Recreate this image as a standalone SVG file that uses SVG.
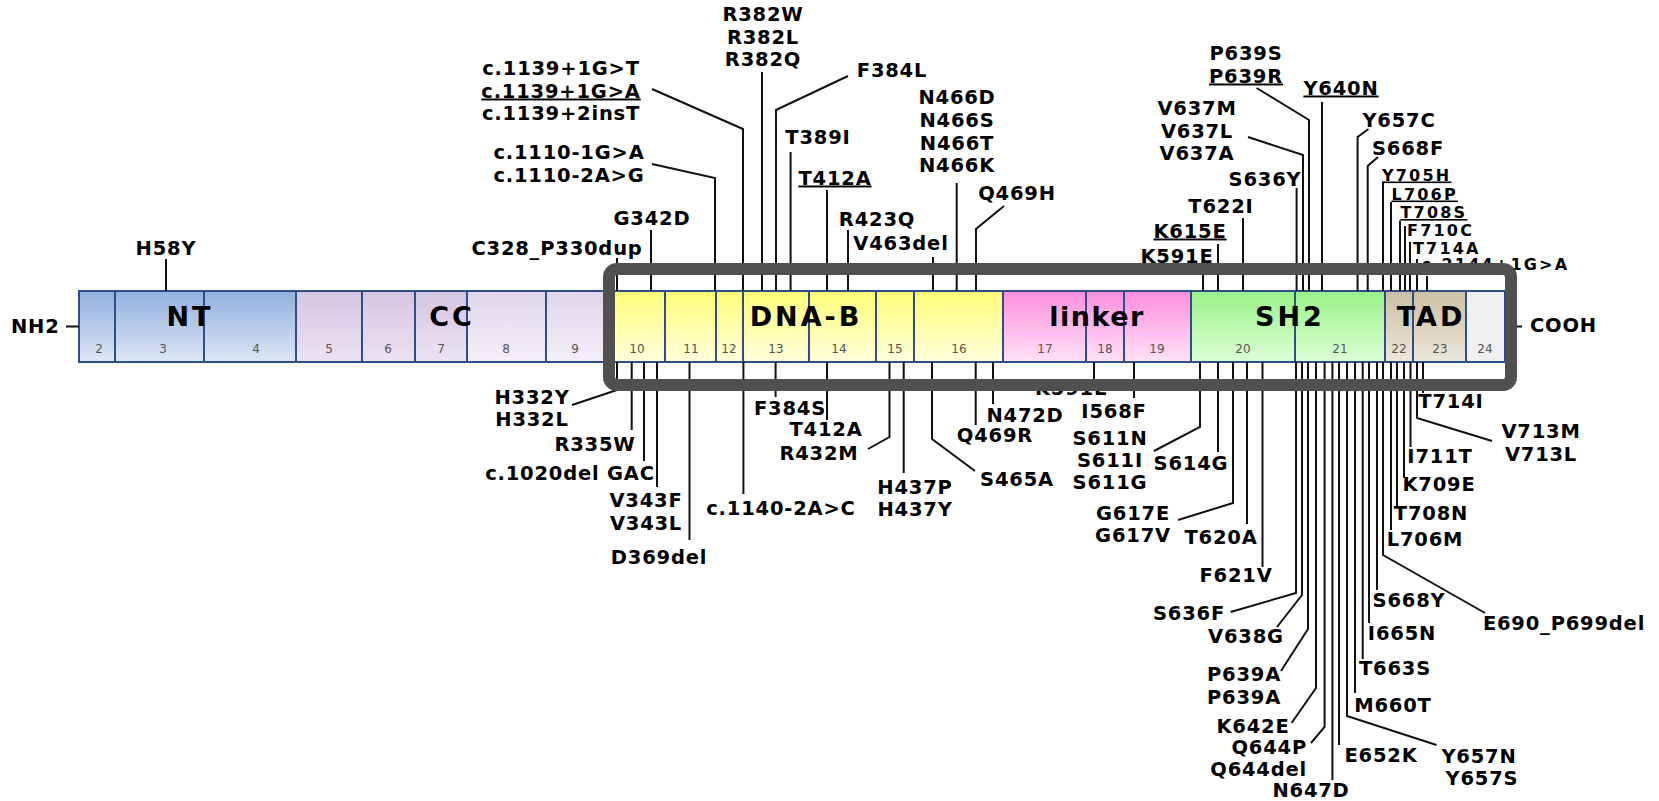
<svg xmlns="http://www.w3.org/2000/svg" width="1659" height="801" viewBox="0 0 1659 801">
<defs>
<linearGradient id="gNT" x1="0" y1="0" x2="0" y2="1"><stop offset="0" stop-color="#92afde"/><stop offset="1" stop-color="#dde6f5"/></linearGradient>
<linearGradient id="gCC" x1="0" y1="0" x2="0" y2="1"><stop offset="0" stop-color="#d5c4e1"/><stop offset="1" stop-color="#ebe3f2"/></linearGradient>
<linearGradient id="gCC2" x1="0" y1="0" x2="0" y2="1"><stop offset="0" stop-color="#e0d5ea"/><stop offset="1" stop-color="#f3eff8"/></linearGradient>
<linearGradient id="gDNA" x1="0" y1="0" x2="0" y2="1"><stop offset="0" stop-color="#ffff78"/><stop offset="1" stop-color="#ffffdc"/></linearGradient>
<linearGradient id="gLNK" x1="0" y1="0" x2="0" y2="1"><stop offset="0" stop-color="#ff8ede"/><stop offset="1" stop-color="#ffe2f6"/></linearGradient>
<linearGradient id="gSH2" x1="0" y1="0" x2="0" y2="1"><stop offset="0" stop-color="#98f288"/><stop offset="1" stop-color="#ddffd7"/></linearGradient>
<linearGradient id="gTAD" x1="0" y1="0" x2="0" y2="1"><stop offset="0" stop-color="#cbc0a2"/><stop offset="1" stop-color="#ece7dc"/></linearGradient>
</defs>
<style>
.seg{stroke:#2c4f86;stroke-width:2}
.num{font-family:"DejaVu Sans",Verdana,sans-serif;font-size:12px;fill:#555;text-anchor:middle}
.dom{font-family:"DejaVu Sans",Verdana,sans-serif;font-weight:bold;font-size:27px;letter-spacing:3px;fill:#000;text-anchor:middle}
.lb{font-family:"DejaVu Sans",Verdana,sans-serif;font-weight:bold;font-size:19.5px;letter-spacing:0.8px;fill:#000;text-anchor:middle}
.sm{font-size:16px;letter-spacing:2.2px;text-anchor:start}
.end{text-anchor:end}
.st{text-anchor:start}
.u{text-decoration:underline}
.ln{stroke:#111;stroke-width:2;fill:none}
.box{fill:none;stroke:#505050;stroke-width:12}
</style>
<rect width="1659" height="801" fill="#fff"/>

<g id="protein-bar">
<g id="nt-domain">
<rect class="seg" x="79" y="291" width="36" height="71" fill="url(#gNT)"/>
<rect class="seg" x="115" y="291" width="89" height="71" fill="url(#gNT)"/>
<rect class="seg" x="204" y="291" width="92" height="71" fill="url(#gNT)"/>
</g>
<g id="cc-domain">
<rect class="seg" x="296" y="291" width="66" height="71" fill="url(#gCC)"/>
<rect class="seg" x="362" y="291" width="53" height="71" fill="url(#gCC)"/>
<rect class="seg" x="415" y="291" width="52" height="71" fill="url(#gCC)"/>
<rect class="seg" x="467" y="291" width="79" height="71" fill="url(#gCC2)"/>
<rect class="seg" x="546" y="291" width="68" height="71" fill="url(#gCC2)"/>
</g>
<g id="dnab-domain">
<rect class="seg" x="614" y="291" width="51" height="71" fill="url(#gDNA)"/>
<rect class="seg" x="665" y="291" width="51" height="71" fill="url(#gDNA)"/>
<rect class="seg" x="716" y="291" width="27" height="71" fill="url(#gDNA)"/>
<rect class="seg" x="743" y="291" width="66" height="71" fill="url(#gDNA)"/>
<rect class="seg" x="809" y="291" width="67" height="71" fill="url(#gDNA)"/>
<rect class="seg" x="876" y="291" width="38" height="71" fill="url(#gDNA)"/>
<rect class="seg" x="914" y="291" width="89" height="71" fill="url(#gDNA)"/>
</g>
<g id="linker-domain">
<rect class="seg" x="1003" y="291" width="83" height="71" fill="url(#gLNK)"/>
<rect class="seg" x="1086" y="291" width="38" height="71" fill="url(#gLNK)"/>
<rect class="seg" x="1124" y="291" width="67" height="71" fill="url(#gLNK)"/>
</g>
<g id="sh2-domain">
<rect class="seg" x="1191" y="291" width="104" height="71" fill="url(#gSH2)"/>
<rect class="seg" x="1295" y="291" width="90" height="71" fill="url(#gSH2)"/>
</g>
<g id="tad-domain">
<rect class="seg" x="1385" y="291" width="28" height="71" fill="url(#gTAD)"/>
<rect class="seg" x="1413" y="291" width="53" height="71" fill="url(#gTAD)"/>
<rect class="seg" x="1466" y="291" width="39" height="71" fill="#f0f0f0"/>
</g>
<g id="exon-numbers">
<text class="num" x="99" y="353">2</text>
<text class="num" x="163" y="353">3</text>
<text class="num" x="256" y="353">4</text>
<text class="num" x="329" y="353">5</text>
<text class="num" x="388" y="353">6</text>
<text class="num" x="441" y="353">7</text>
<text class="num" x="506" y="353">8</text>
<text class="num" x="575" y="353">9</text>
<text class="num" x="637" y="353">10</text>
<text class="num" x="691" y="353">11</text>
<text class="num" x="729" y="353">12</text>
<text class="num" x="776" y="353">13</text>
<text class="num" x="839" y="353">14</text>
<text class="num" x="895" y="353">15</text>
<text class="num" x="959" y="353">16</text>
<text class="num" x="1045" y="353">17</text>
<text class="num" x="1105" y="353">18</text>
<text class="num" x="1157" y="353">19</text>
<text class="num" x="1243" y="353">20</text>
<text class="num" x="1340" y="353">21</text>
<text class="num" x="1399" y="353">22</text>
<text class="num" x="1440" y="353">23</text>
<text class="num" x="1485" y="353">24</text>
</g>
<g id="domain-labels">
<text class="dom" x="190" y="326">NT</text>
<text class="dom" x="452" y="326">CC</text>
<text class="dom" x="806" y="326">DNA-B</text>
<text class="dom" x="1097" y="326" style="letter-spacing:1.5px">linker</text>
<text class="dom" x="1290" y="326">SH2</text>
<text class="dom" x="1431" y="326">TAD</text>
</g>
<g id="termini">
<text class="lb st" x="11" y="333">NH2</text>
<text class="lb st" x="1530" y="332">COOH</text>
</g>
</g>

<g id="connectors">
<path class="ln" d="M66,326.5H79M1505,326.5H1522"/>
<path class="ln" d="M166,259V291"/>
<path class="ln" d="M617,258V291"/>
<path class="ln" d="M651,230V291"/>
<path class="ln" d="M652,164L715,178V291"/>
<path class="ln" d="M652,89L743,129V291"/>
<path class="ln" d="M762,72V291"/>
<path class="ln" d="M848,76L776,110V291"/>
<path class="ln" d="M790.6,152V291"/>
<path class="ln" d="M827,190V291"/>
<path class="ln" d="M848,230V291"/>
<path class="ln" d="M933,257V291"/>
<path class="ln" d="M956.7,183V291"/>
<path class="ln" d="M1004,206L976,229V291"/>
<path class="ln" d="M1203,266V291"/>
<path class="ln" d="M1218,244V291"/>
<path class="ln" d="M1243,218V291"/>
<path class="ln" d="M1296.6,188V291"/>
<path class="ln" d="M1248,137L1303,155V291"/>
<path class="ln" d="M1256.6,88L1309,120V291"/>
<path class="ln" d="M1322,102V291"/>
<path class="ln" d="M1368.5,129L1357.6,137V291"/>
<path class="ln" d="M1378,157L1367.7,166V291"/>
<path class="ln" d="M1383,183V291"/>
<path class="ln" d="M1391,202V291"/>
<path class="ln" d="M1400,220.5V291"/>
<path class="ln" d="M1405,226V291"/>
<path class="ln" d="M1410,242V291"/>
<path class="ln" d="M1417,259V291"/>
<path class="ln" d="M1427,276V291"/>

<path class="ln" d="M572,405L617,390V362"/>
<path class="ln" d="M631.7,362V430"/>
<path class="ln" d="M644,362V461"/>
<path class="ln" d="M657,362V487"/>
<path class="ln" d="M689.5,362V540"/>
<path class="ln" d="M743.4,362V494"/>
<path class="ln" d="M775.6,362V397"/>
<path class="ln" d="M827,362V420"/>
<path class="ln" d="M868,449L889.5,437V362"/>
<path class="ln" d="M903.7,362V473"/>
<path class="ln" d="M975,471L932,439V362"/>
<path class="ln" d="M975.7,362V425"/>
<path class="ln" d="M993,362V404"/>
<path class="ln" d="M1094,362V380"/>
<path class="ln" d="M1134,362V398"/>
<path class="ln" d="M1154,451L1200,427V362"/>
<path class="ln" d="M1218,362V452"/>
<path class="ln" d="M1178,520L1233,503V362"/>
<path class="ln" d="M1247,362V524"/>
<path class="ln" d="M1262.5,362V567"/>
<path class="ln" d="M1230.6,612L1296,593V362"/>
<path class="ln" d="M1277,627L1302,595V362"/>
<path class="ln" d="M1281,671L1308,629V362"/>
<path class="ln" d="M1291.6,723L1316,688V362"/>
<path class="ln" d="M1311,743L1324.6,727V362"/>
<path class="ln" d="M1332.4,362V780"/>
<path class="ln" d="M1339,362V745"/>
<path class="ln" d="M1347,362V716L1436.5,745"/>
<path class="ln" d="M1355,362V693"/>
<path class="ln" d="M1362.7,362V659"/>
<path class="ln" d="M1369,362V623"/>
<path class="ln" d="M1377,362V590"/>
<path class="ln" d="M1383,362V555L1485,613"/>
<path class="ln" d="M1391,362V530"/>
<path class="ln" d="M1397,362V506"/>
<path class="ln" d="M1404,362V478"/>
<path class="ln" d="M1410.5,362V447"/>
<path class="ln" d="M1417,362V418L1492,441"/>
<path class="ln" d="M1423,362V393"/>
</g>

<g id="labels-top">
<g id="m-H58Y"><text class="lb" x="166" y="254.5">H58Y</text></g>
<g id="m-C328"><text class="lb" x="557" y="254.5">C328_P330dup</text></g>
<g id="m-G342D"><text class="lb" x="652" y="224.5">G342D</text></g>
<g id="m-c1110"><text class="lb" x="569" y="158.5">c.1110-1G&gt;A</text><text class="lb" x="569" y="181.5">c.1110-2A&gt;G</text></g>
<g id="m-c1139"><text class="lb" x="561" y="74.5">c.1139+1G&gt;T</text><text class="lb u" x="561" y="97.5">c.1139+1G&gt;A</text><text class="lb" x="561" y="119.5">c.1139+2insT</text></g>
<g id="m-R382"><text class="lb" x="763" y="20.5">R382W</text><text class="lb" x="763" y="43.5">R382L</text><text class="lb" x="763" y="65.5">R382Q</text></g>
<g id="m-F384L"><text class="lb" x="892" y="76.5">F384L</text></g>
<g id="m-T389I"><text class="lb" x="818" y="143.5">T389I</text></g>
<g id="m-T412A-top"><text class="lb u" x="835" y="184.5">T412A</text></g>
<g id="m-R423Q"><text class="lb" x="877" y="225.5">R423Q</text></g>
<g id="m-V463del"><text class="lb" x="901" y="249.5">V463del</text></g>
<g id="m-N466"><text class="lb" x="957" y="103.5">N466D</text><text class="lb" x="957" y="126.5">N466S</text><text class="lb" x="957" y="149.5">N466T</text><text class="lb" x="957" y="171.5">N466K</text></g>
<g id="m-Q469H"><text class="lb" x="1017" y="199.5">Q469H</text></g>
<g id="m-K591E"><text class="lb" x="1177" y="262.5">K591E</text></g>
<g id="m-K615E"><text class="lb u" x="1190" y="237.5">K615E</text></g>
<g id="m-T622I"><text class="lb" x="1221" y="212.5">T622I</text></g>
<g id="m-S636Y"><text class="lb" x="1265" y="185.5">S636Y</text></g>
<g id="m-V637"><text class="lb" x="1197" y="114.5">V637M</text><text class="lb" x="1197" y="137.5">V637L</text><text class="lb" x="1197" y="159.5">V637A</text></g>
<g id="m-P639"><text class="lb" x="1246" y="59.5">P639S</text><text class="lb u" x="1246" y="82.5">P639R</text></g>
<g id="m-Y640N"><text class="lb u" x="1341" y="94.5">Y640N</text></g>
<g id="m-Y657C"><text class="lb" x="1399" y="126.5">Y657C</text></g>
<g id="m-S668F"><text class="lb" x="1408" y="154.5">S668F</text></g>
<g id="m-Y705H"><text class="lb sm u" x="1382" y="180.5">Y705H</text></g>
<g id="m-L706P"><text class="lb sm u" x="1391.5" y="199.5">L706P</text></g>
<g id="m-T708S"><text class="lb sm u" x="1400.5" y="218">T708S</text></g>
<g id="m-F710C"><text class="lb sm" x="1407" y="236">F710C</text></g>
<g id="m-T714A"><text class="lb sm" x="1413" y="253.5">T714A</text></g>
<g id="m-c2144"><text class="lb sm" x="1421.5" y="270">c.2144+1G&gt;A</text></g>
</g>

<g id="labels-bottom">
<g id="m-H332"><text class="lb" x="532" y="403.5">H332Y</text><text class="lb" x="532" y="425.5">H332L</text></g>
<g id="m-R335W"><text class="lb" x="595" y="450.5">R335W</text></g>
<g id="m-c1020"><text class="lb" x="570" y="479.5">c.1020del GAC</text></g>
<g id="m-V343"><text class="lb" x="646" y="506.5">V343F</text><text class="lb" x="646" y="529.5">V343L</text></g>
<g id="m-D369del"><text class="lb" x="659" y="563.5">D369del</text></g>
<g id="m-c1140"><text class="lb" x="781" y="514.5">c.1140-2A&gt;C</text></g>
<g id="m-F384S"><text class="lb" x="790" y="414.5">F384S</text></g>
<g id="m-T412A-bot"><text class="lb" x="826" y="435.5">T412A</text></g>
<g id="m-R432M"><text class="lb" x="819" y="459.5">R432M</text></g>
<g id="m-H437"><text class="lb" x="915" y="493.5">H437P</text><text class="lb" x="915" y="515.5">H437Y</text></g>
<g id="m-S465A"><text class="lb" x="1017" y="485.5">S465A</text></g>
<g id="m-Q469R"><text class="lb" x="995" y="441.5">Q469R</text></g>
<g id="m-N472D"><text class="lb" x="1025" y="421.5">N472D</text></g>
<g id="m-K591L"><text class="lb" x="1071" y="395">K591L</text></g>
<g id="m-I568F"><text class="lb" x="1114" y="417.5">I568F</text></g>
<g id="m-S611"><text class="lb" x="1110" y="444.5">S611N</text><text class="lb" x="1110" y="466.5">S611I</text><text class="lb" x="1110" y="488.5">S611G</text></g>
<g id="m-S614G"><text class="lb" x="1191" y="469.5">S614G</text></g>
<g id="m-G617"><text class="lb" x="1133" y="519.5">G617E</text><text class="lb" x="1133" y="541.5">G617V</text></g>
<g id="m-T620A"><text class="lb" x="1221" y="543.5">T620A</text></g>
<g id="m-F621V"><text class="lb" x="1236" y="581.5">F621V</text></g>
<g id="m-S636F"><text class="lb" x="1189" y="619.5">S636F</text></g>
<g id="m-V638G"><text class="lb" x="1246" y="642.5">V638G</text></g>
<g id="m-P639A"><text class="lb" x="1244" y="680.5">P639A</text><text class="lb" x="1244" y="703.5">P639A</text></g>
<g id="m-K642E"><text class="lb" x="1253" y="732.5">K642E</text></g>
<g id="m-Q644"><text class="lb end" x="1307" y="753.5">Q644P</text><text class="lb end" x="1307" y="775.5">Q644del</text></g>
<g id="m-N647D"><text class="lb" x="1311" y="796.5">N647D</text></g>
<g id="m-E652K"><text class="lb" x="1381" y="761.5">E652K</text></g>
<g id="m-Y657"><text class="lb" x="1479" y="762.5">Y657N</text><text class="lb" x="1482" y="784.5">Y657S</text></g>
<g id="m-M660T"><text class="lb" x="1393" y="711.5">M660T</text></g>
<g id="m-T663S"><text class="lb" x="1395" y="674.5">T663S</text></g>
<g id="m-I665N"><text class="lb" x="1402" y="639.5">I665N</text></g>
<g id="m-S668Y"><text class="lb" x="1409" y="606.5">S668Y</text></g>
<g id="m-E690"><text class="lb" x="1564" y="629.5">E690_P699del</text></g>
<g id="m-L706M"><text class="lb" x="1425" y="545.5">L706M</text></g>
<g id="m-T708N"><text class="lb" x="1431" y="519.5">T708N</text></g>
<g id="m-K709E"><text class="lb" x="1439" y="490.5">K709E</text></g>
<g id="m-I711T"><text class="lb" x="1440" y="462.5">I711T</text></g>
<g id="m-V713"><text class="lb" x="1541" y="437.5">V713M</text><text class="lb" x="1541" y="460.5">V713L</text></g>
<g id="m-T714I"><text class="lb" x="1451" y="407.5">T714I</text></g>
</g>

<g id="highlight-box">
<rect class="box" x="609" y="269" width="902" height="116" rx="8"/>
</g>
</svg>
